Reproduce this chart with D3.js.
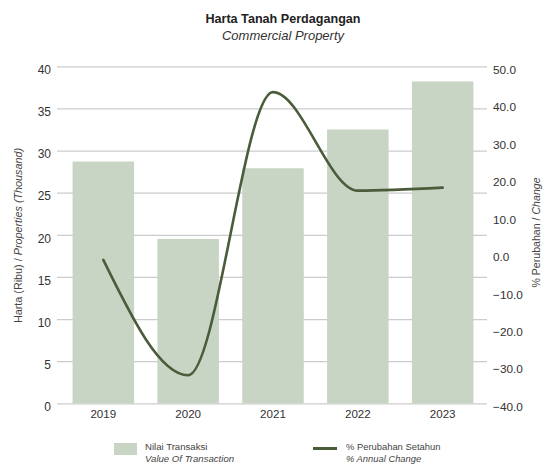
<!DOCTYPE html>
<html><head><meta charset="utf-8">
<script src="https://cdn.jsdelivr.net/npm/d3@7"></script>
<style>
body{margin:0;background:#fff;}
svg{display:block;font-family:"Liberation Sans",Arial,sans-serif;}
</style></head>
<body><svg id="c" width="544" height="466"></svg>
<script>
const years = ["2019","2020","2021","2022","2023"];
const transactions = [28.7, 19.5, 27.9, 32.5, 38.2];
const annualChange = [-1.7, -32.5, 43.1, 16.8, 17.6];
const leftTicks = [0,5,10,15,20,25,30,35,40];
const rightTicks = [-40,-30,-20,-10,0,10,20,30,40,50];

const svg = d3.select("#c");
const x = d3.scaleBand().domain(years).range([59, 487]).paddingInner(0.275).paddingOuter(0.16);
const yL = d3.scaleLinear().domain([0,40]).range([403.3, 66.3]);
const yR = d3.scaleLinear().domain([-40,50]).range([403.3, 66.3]);

// gridlines
svg.append("g").selectAll("line").data(leftTicks).join("line")
  .attr("x1",57).attr("x2",487)
  .attr("y1",d=>yL(d)+0.5).attr("y2",d=>yL(d)+0.5)
  .attr("stroke","#cccccc").attr("stroke-width",1.2);

// bars
svg.append("g").selectAll("rect").data(years).join("rect")
  .attr("x",d=>x(d)).attr("width",x.bandwidth())
  .attr("y",(d,i)=>yL(transactions[i])).attr("height",(d,i)=>yL(0)-yL(transactions[i]))
  .attr("fill","#c9d5c4");

// line
const line = d3.line().x((d,i)=>x(years[i])+x.bandwidth()/2).y(d=>yR(d)).curve(d3.curveMonotoneX);
svg.append("path").datum(annualChange).attr("d",line)
  .attr("fill","none").attr("stroke","#4a5c3a").attr("stroke-width",2.6).attr("stroke-linecap","round");

// left ticks
svg.append("g").selectAll("text").data(leftTicks).join("text")
  .attr("x",51).attr("y",d=>yL(d)+3.5).attr("dy","0.35em").attr("text-anchor","end")
  .attr("font-size",12).attr("fill","#333").text(d=>d);
// right ticks
svg.append("g").selectAll("text").data(rightTicks).join("text")
  .attr("x",493).attr("y",d=>yR(d)+3.5).attr("dy","0.35em").attr("text-anchor","start")
  .attr("font-size",11.8).attr("fill","#333").text(d=>d3.format(".1f")(d));
// x labels
svg.append("g").selectAll("text").data(years).join("text")
  .attr("x",d=>x(d)+x.bandwidth()/2).attr("y",418).attr("text-anchor","middle")
  .attr("font-size",11.6).attr("fill","#333").text(d=>d);

// title
svg.append("text").attr("x",283).attr("y",23).attr("text-anchor","middle")
  .attr("font-size",12.6).attr("font-weight","bold").attr("fill","#222").text("Harta Tanah Perdagangan");
svg.append("text").attr("x",283).attr("y",40).attr("text-anchor","middle")
  .attr("font-size",13).attr("font-style","italic").attr("fill","#333").text("Commercial Property");

// axis titles
const lt = svg.append("text").attr("transform","translate(22,235.5) rotate(-90)")
  .attr("text-anchor","middle").attr("font-size",10.8).attr("fill","#444");
lt.append("tspan").text("Harta (Ribu) / ");
lt.append("tspan").attr("font-style","italic").text("Properties (Thousand)");
const rt = svg.append("text").attr("transform","translate(540,232.5) rotate(-90)")
  .attr("text-anchor","middle").attr("font-size",10.6).attr("fill","#444");
rt.append("tspan").text("% Perubahan / ");
rt.append("tspan").attr("font-style","italic").text("Change");

// legend
const lg = svg.append("g");
lg.append("rect").attr("x",114).attr("y",443).attr("width",23).attr("height",12).attr("fill","#c9d5c4");
lg.append("text").attr("x",145).attr("y",449.5).attr("font-size",9.6).attr("fill","#444").text("Nilai Transaksi");
lg.append("text").attr("x",145).attr("y",461.5).attr("font-size",9.6).attr("font-style","italic").attr("fill","#444").text("Value Of Transaction");
lg.append("line").attr("x1",313).attr("x2",337).attr("y1",448.5).attr("y2",448.5).attr("stroke","#4a5c3a").attr("stroke-width",3);
lg.append("text").attr("x",346).attr("y",449.5).attr("font-size",9.4).attr("fill","#444").text("% Perubahan Setahun");
lg.append("text").attr("x",346).attr("y",461.5).attr("font-size",9.4).attr("font-style","italic").attr("fill","#444").text("% Annual Change");
</script></body></html>
